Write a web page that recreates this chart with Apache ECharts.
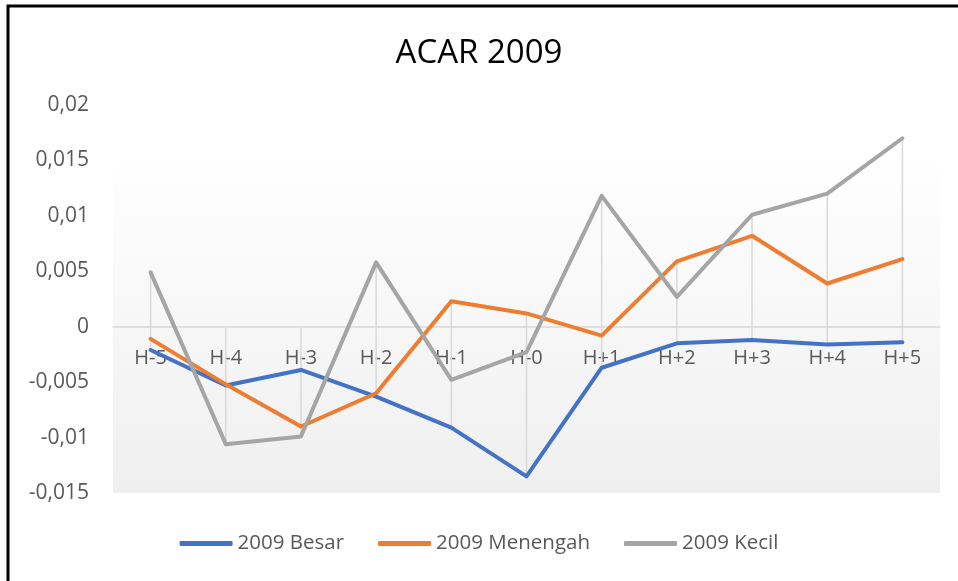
<!DOCTYPE html>
<html>
<head>
<meta charset="utf-8">
<title>ACAR 2009</title>
<script src="https://cdn.jsdelivr.net/npm/echarts@6/dist/echarts.min.js"></script>
<style>
  html, body { margin: 0; padding: 0; background: #fff; }
  #chart { width: 958px; height: 581px; }
</style>
</head>
<body>
<div id="chart"></div>
<script>
  'use strict';

  const categories = ['H-5', 'H-4', 'H-3', 'H-2', 'H-1', 'H-0', 'H+1', 'H+2', 'H+3', 'H+4', 'H+5'];
  const besar = [-0.0021, -0.0053, -0.0039, -0.0063, -0.0091, -0.0135, -0.0037, -0.0015, -0.0012, -0.0016, -0.0014];
  const menengah = [-0.0011, -0.0052, -0.0090, -0.0060, 0.0023, 0.0012, -0.0008, 0.0059, 0.0082, 0.0039, 0.0061];
  const kecil = [0.0049, -0.0106, -0.0099, 0.0058, -0.0048, -0.0023, 0.0118, 0.0027, 0.0101, 0.0120, 0.0170];
  const seriesNames = ['2009 Besar', '2009 Menengah', '2009 Kecil'];
  const seriesColors = ['#4472C4', '#ED7D31', '#A5A5A5'];
  const yMin = -0.015;
  const yMax = 0.02;
  const yStep = 0.005;

  const FONT = '"Open Sans", sans-serif';
  const CHART_H = 581;
  const GRID = { left: 113, right: 18, top: 105, bottom: 88 };

  // category axis sits on the zero line, labels included
  const plotHeight = CHART_H - GRID.top - GRID.bottom;
  const zeroOffset = -plotHeight * (0 - yMin) / (yMax - yMin);

  // drop lines span from the highest to the lowest point of each category (and the axis)
  const dropRange = categories.map(function (c, i) {
    const vals = [besar[i], menengah[i], kecil[i], 0];
    return [i, Math.min.apply(null, vals), Math.max.apply(null, vals)];
  });

  const formatTick = function formatTick(v) {
    return String(Number(v.toFixed(3))).replace('.', ',');
  };

  const lineSeries = function lineSeries(name, data, color, z) {
    return {
      name: name,
      type: 'line',
      data: data,
      symbol: 'none',
      z: z,
      lineStyle: { color: color, width: 4, cap: 'round', join: 'round' },
      itemStyle: { color: color }
    };
  };

  const chart = echarts.init(document.getElementById('chart'), null, { renderer: 'canvas' });

  chart.setOption({
    animation: false,
    title: {
      text: 'ACAR 2009',
      left: 'center',
      top: 32,
      textStyle: { fontFamily: FONT, fontSize: 33, fontWeight: 'normal', color: '#000' }
    },
    legend: {
      bottom: 22,
      left: 'center',
      itemWidth: 53,
      itemHeight: 5,
      itemGap: 34,
      icon: 'roundRect',
      data: seriesNames,
      textStyle: { fontFamily: FONT, fontSize: 20.5, color: '#595959' }
    },
    graphic: [{
      type: 'rect',
      silent: true,
      z: 100,
      shape: { x: 8, y: 6, width: 1200, height: 1200 },
      style: { fill: 'none', stroke: '#000', lineWidth: 3 }
    }],
    grid: {
      left: GRID.left,
      right: GRID.right,
      top: GRID.top,
      bottom: GRID.bottom,
      show: true,
      borderWidth: 0,
      backgroundColor: new echarts.graphic.LinearGradient(0, 0, 0, 1, [
        { offset: 0, color: '#ffffff' },
        { offset: 0.12, color: '#ffffff' },
        { offset: 1, color: '#efefef' }
      ])
    },
    xAxis: {
      type: 'category',
      data: categories,
      boundaryGap: true,
      offset: zeroOffset,
      z: 0,
      axisLine: { onZero: false, lineStyle: { color: '#D9D9D9', width: 1.5 } },
      axisTick: { show: false },
      splitLine: { show: false },
      axisLabel: { fontFamily: FONT, fontSize: 20, color: '#595959', margin: 22 }
    },
    yAxis: {
      type: 'value',
      min: yMin,
      max: yMax,
      interval: yStep,
      axisLine: { show: false },
      axisTick: { show: false },
      splitLine: { show: false },
      axisLabel: {
        fontFamily: FONT,
        fontSize: 21,
        color: '#595959',
        margin: 24,
        formatter: formatTick
      }
    },
    series: [
      {
        name: 'dropLines',
        type: 'custom',
        z: 1,
        silent: true,
        data: dropRange,
        renderItem: function (params, api) {
          const top = api.coord([api.value(0), api.value(2)]);
          const bottom = api.coord([api.value(0), api.value(1)]);
          return {
            type: 'line',
            shape: { x1: top[0], y1: top[1], x2: bottom[0], y2: bottom[1] },
            style: { stroke: '#D9D9D9', lineWidth: 1.5 }
          };
        }
      },
      lineSeries(seriesNames[0], besar, seriesColors[0], 2),
      lineSeries(seriesNames[1], menengah, seriesColors[1], 3),
      lineSeries(seriesNames[2], kecil, seriesColors[2], 4)
    ]
  });
</script>
</body>
</html>
